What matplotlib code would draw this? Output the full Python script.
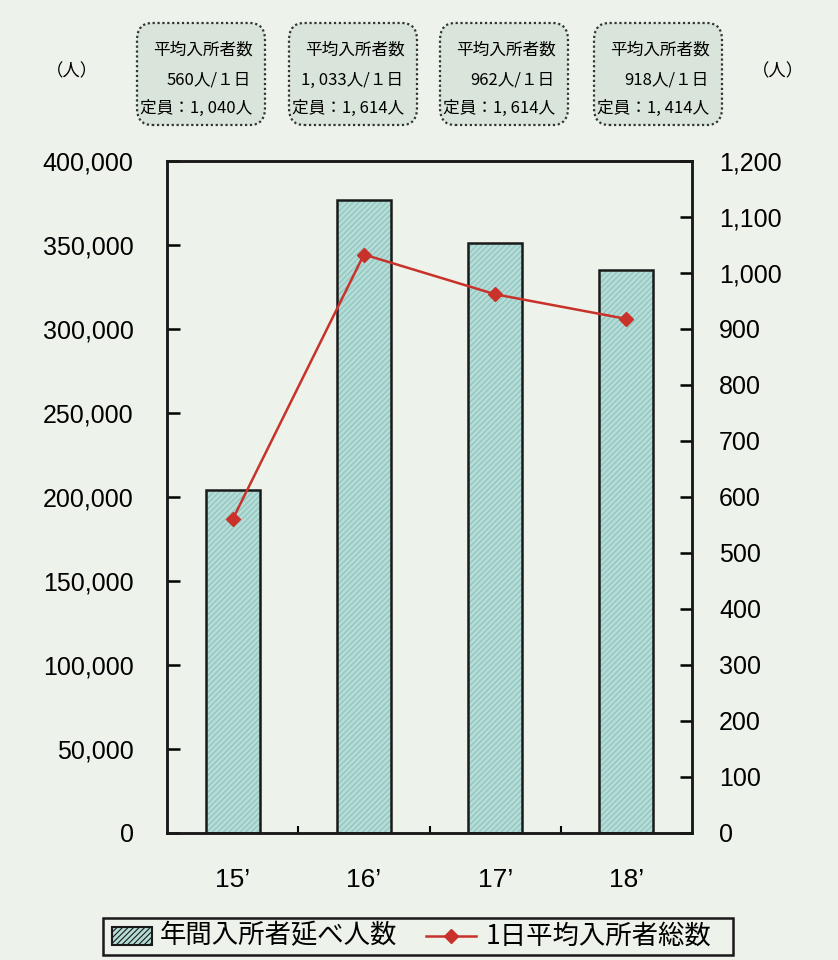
import matplotlib
matplotlib.use("Agg")
import matplotlib.pyplot as plt
from matplotlib.patches import FancyBboxPatch, Rectangle
from matplotlib.lines import Line2D
import numpy as np

plt.rcParams['font.family'] = ['Noto Sans CJK JP', 'DejaVu Sans']
plt.rcParams['hatch.linewidth'] = 0.8

categories = ["15’", "16’", "17’", "18’"]
annual_total = [204400, 377000, 351100, 335100]
daily_avg = [560, 1033, 962, 918]
box_avg_text = ["560人/１日", "1, 033人/１日", "962人/１日", "918人/１日"]
box_cap_text = ["定員：1, 040人", "定員：1, 614人", "定員：1, 614人", "定員：1, 414人"]
left_ticks = [0, 50000, 100000, 150000, 200000, 250000, 300000, 350000, 400000]
right_ticks = [0, 100, 200, 300, 400, 500, 600, 700, 800, 900, 1000, 1100, 1200]
bar_label = "年間入所者延べ人数"
line_label = "1日平均入所者総数"

bg = "#edf2ea"
bar_fill = "#b5dcd6"
hatch_col = "#8cc4bd"
red = "#c8322a"
num_font = ['Liberation Sans', 'DejaVu Sans']

fig = plt.figure(figsize=(8.38, 9.6), dpi=100, facecolor=bg)
ax = fig.add_axes([0.1993, 0.1323, 0.8258 - 0.1993, 0.8323 - 0.1323])
ax.set_facecolor(bg)
x = np.arange(len(categories))

ax.bar(x, annual_total, width=0.41, color=bar_fill, linewidth=0, zorder=2)
ax.bar(x, annual_total, width=0.41, color="none", edgecolor=hatch_col, linewidth=0,
       hatch="//////", zorder=2.1)
ax.bar(x, annual_total, width=0.41, color="none", edgecolor="#1a1a1a",
       linewidth=1.8, zorder=2.2)

ax.set_xlim(-0.5, 3.5)
ax.set_ylim(0, 400000)
ax.set_yticks(left_ticks)
ax.set_yticklabels([f"{t:,}" for t in left_ticks], fontsize=18, family=num_font)
ax.set_xticks(x)
ax.set_xticklabels(categories, fontsize=19, family=num_font)
ax.tick_params(axis='x', length=0, pad=25)
ax.set_xticks([0.5, 1.5, 2.5], minor=True)
ax.tick_params(axis='x', which='minor', direction='in', length=5, width=1.5)
ax.tick_params(axis='y', direction='in', length=9, width=1.8, pad=24)
for s in ax.spines.values():
    s.set_linewidth(1.8)
    s.set_color("#1a1a1a")

ax2 = ax.twinx()
ax2.plot(x, daily_avg, color=red, linewidth=1.8, marker='D', markersize=7,
         markerfacecolor=red, markeredgecolor=red, zorder=5)
ax2.set_ylim(0, 1200)
ax2.set_yticks(right_ticks)
ax2.set_yticklabels([f"{t:,}" for t in right_ticks], fontsize=18, family=num_font)
ax2.tick_params(axis='y', direction='in', length=9, width=1.8, pad=19.5)
for s in ax2.spines.values():
    s.set_linewidth(1.8)
    s.set_color("#1a1a1a")

# unit labels
fig.text(72 / 838, 1 - 71 / 960, "（人）", ha='center', va='center', fontsize=12.5)
fig.text(778 / 838, 1 - 71 / 960, "（人）", ha='center', va='center', fontsize=12.5)

# info boxes
box_lefts = [137, 289, 440, 594]
bw, bh = 128, 102
for i, bl in enumerate(box_lefts):
    x0 = bl / 838
    y0 = 1 - 125 / 960
    p = FancyBboxPatch((x0, y0), bw / 838, bh / 960,
                       boxstyle="round,pad=0,rounding_size=0.018",
                       transform=fig.transFigure, facecolor="#d9e4db",
                       edgecolor="#333333", linestyle=(0, (1, 1.2)), linewidth=1.6)
    fig.patches.append(p)
    cx = (bl + bw / 2) / 838
    fig.text(cx + 2 / 838, 1 - 50 / 960, "平均入所者数", ha='center', va='center', fontsize=12)
    fig.text((bl + bw - 14) / 838, 1 - 80 / 960, box_avg_text[i], ha='right',
             va='center', fontsize=12)
    fig.text((bl + 3) / 838, 1 - 108 / 960, box_cap_text[i], ha='left',
             va='center', fontsize=12)

# legend
lx0, lx1, ly0, ly1 = 103, 733, 918, 955
frame = Rectangle((lx0 / 838, 1 - ly1 / 960), (lx1 - lx0) / 838, (ly1 - ly0) / 960,
                  transform=fig.transFigure, facecolor=bg, edgecolor="#1a1a1a",
                  linewidth=1.8)
fig.patches.append(frame)
sw = Rectangle((112 / 838, 1 - 945 / 960), 40 / 838, 18 / 960,
               transform=fig.transFigure, facecolor=bar_fill, edgecolor="#1a1a1a",
               linewidth=1.5, hatch="//////")
fig.patches.append(sw)
fig.text(160 / 838, 1 - 936 / 960, bar_label, ha='left', va='center', fontsize=19)
fig.add_artist(Line2D([426 / 838, 476 / 838], [1 - 936 / 960, 1 - 936 / 960],
                      transform=fig.transFigure, color=red, linewidth=1.8))
fig.add_artist(Line2D([451 / 838], [1 - 936 / 960], transform=fig.transFigure,
                      color=red, marker='D', markersize=7, linestyle='none'))
fig.text(486 / 838, 1 - 936 / 960, line_label, ha='left', va='center', fontsize=19)

fig.savefig("out.png", dpi=100, facecolor=bg)
